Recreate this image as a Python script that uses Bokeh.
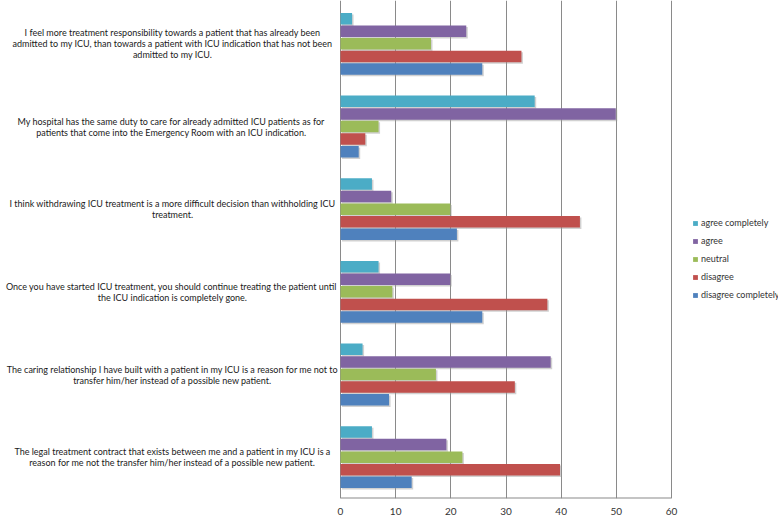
from bokeh.plotting import figure
from bokeh.models import Range1d, ColumnDataSource, LabelSet, Legend, LegendItem, FixedTicker
from bokeh.core.properties import value
from bokeh.transform import dodge
from bokeh.embed import file_html
from bokeh.resources import INLINE

questions = [
    "I feel more treatment responsibility towards a patient that has already been\nadmitted to my ICU, than towards a patient with ICU indication that has not been\nadmitted to my ICU.",
    "My hospital  has the same duty to care for already admitted ICU patients as for\npatients that  come into the Emergency Room with an ICU indication.",
    "I think withdrawing ICU treatment is a more difficult decision than withholding ICU\ntreatment.",
    "Once you have started ICU treatment,  you should continue treating the patient until\nthe ICU indication is completely gone.",
    "The caring relationship I have built with a patient in my ICU is a reason for me not to\ntransfer him/her instead of a possible new patient.",
    "The legal treatment contract that exists between me and a patient in my ICU is a\nreason for me not the transfer him/her instead of a possible new patient.",
]
responses = ["agree completely", "agree", "neutral", "disagree", "disagree completely"]
agree_completely = [2.1, 35.2, 5.7, 6.9, 4.0, 5.7]
agree = [22.8, 49.9, 9.2, 19.9, 38.1, 19.2]
neutral = [16.4, 6.9, 19.9, 9.4, 17.3, 22.1]
disagree = [32.8, 4.5, 43.4, 37.5, 31.6, 39.8]
disagree_completely = [25.7, 3.3, 21.1, 25.7, 8.8, 12.9]
series = [agree_completely, agree, neutral, disagree, disagree_completely]
colors = ["#4BACC6", "#8064A2", "#9BBB59", "#C0504D", "#4F81BD"]
x_ticks = [0, 10, 20, 30, 40, 50, 60]

FONT = "Lato"
n_cat = len(questions)
W, H = 778, 518
frame_h = 498
top_pad = 2
plot_left, plot_right = 340, 671      # screen px of 0 and 60
px = (plot_right - plot_left) / (x_ticks[-1] - x_ticks[0])
x_start = -plot_left / px
x_end = (W - plot_left) / px
cat_px = (frame_h - top_pad) / n_cat
y_end = n_cat + top_pad / cat_px

p = figure(frame_width=W, frame_height=frame_h,
           x_range=Range1d(x_start, x_end), y_range=Range1d(0, y_end),
           output_backend="svg", toolbar_location=None,
           min_border_left=0, min_border_right=0,
           min_border_top=0, min_border_bottom=H - frame_h)

p.outline_line_color = None
p.background_fill_color = "white"
p.border_fill_color = "white"
p.yaxis.visible = False
p.ygrid.visible = False
p.xgrid.grid_line_color = "#8a8a8a"
p.xgrid.ticker = FixedTicker(ticks=x_ticks)
p.xaxis.ticker = FixedTicker(ticks=x_ticks)
p.xaxis.axis_line_color = None
p.xaxis.major_tick_line_color = None
p.xaxis.minor_tick_line_color = None
p.xaxis.major_label_text_font = FONT
p.xaxis.major_label_text_font_size = "10px"
p.xaxis.major_label_text_color = "#333333"
p.xaxis.major_label_standoff = 3

# axis baseline spanning the value range
p.segment(x0=[x_ticks[0]], x1=[x_ticks[-1]], y0=[0], y1=[0],
          line_color="#8a8a8a", line_width=2)

pitch = 12.6 / cat_px
bar_h = 11.5 / cat_px
shadow_dx = 1.5 / px
shadow_dy = 1.5 / cat_px
items = []
for j, (name, vals) in enumerate(zip(responses, series)):
    ys = [(n_cat - 0.5 - i) + (2 - j) * pitch for i in range(n_cat)]
    src = ColumnDataSource(dict(y=ys, right=vals, left=[0] * n_cat))
    # soft drop shadow (Excel style)
    p.hbar(y=dodge("y", -shadow_dy), left=dodge("left", shadow_dx),
           right=dodge("right", shadow_dx), height=bar_h, source=src,
           fill_color="#9a9a9a", fill_alpha=0.45, line_color=None)
    r = p.hbar(y="y", left="left", right="right", height=bar_h, source=src,
               fill_color=colors[j], line_color=None)
    items.append(LegendItem(label=name, renderers=[r]))

# category labels: each line centred separately
label_center_screen = 172
label_x = (label_center_screen - plot_left) / px
line_step = 11 / cat_px
lx, ly, lt = [], [], []
for i, q in enumerate(questions):
    lines = q.split("\n")
    k = len(lines)
    for l, t in enumerate(lines):
        lx.append(label_x)
        ly.append((n_cat - 0.5 - i) - (l - (k - 1) / 2) * line_step)
        lt.append(t)
lab_src = ColumnDataSource(dict(x=lx, y=ly, text=lt))
labels = LabelSet(x="x", y="y", text="text", source=lab_src,
                  text_align="center", text_baseline="middle",
                  text_font=value(FONT), text_font_size="9px",
                  text_color="#1a1a1a")
p.add_layout(labels)

legend = Legend(items=items, location=(692, frame_h - 300), orientation="vertical",
                glyph_width=6, glyph_height=6, label_height=10, spacing=7,
                padding=0, margin=0, border_line_color=None,
                background_fill_alpha=0, label_text_font=FONT,
                label_text_font_size="9px", label_text_color="#333333",
                label_standoff=3)
p.add_layout(legend)

open("out.html", "w").write(file_html(p, INLINE))
